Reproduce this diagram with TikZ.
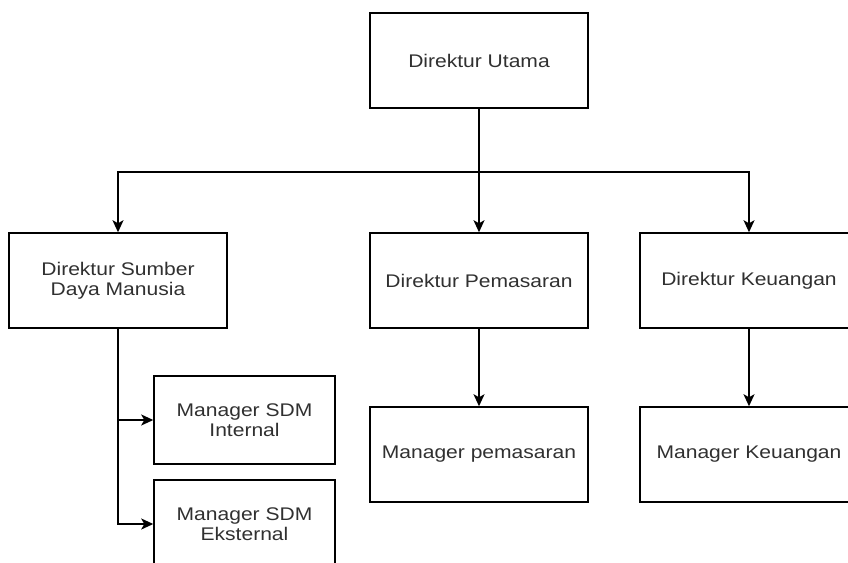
\documentclass[tikz,border=0pt]{standalone}
\usepackage{fontspec}
\setmainfont{Liberation Sans}[FakeStretch=1.15]
\usepackage{tikz}
\usetikzlibrary{arrows.meta}
\definecolor{textgray}{HTML}{303030}

\begin{document}
\begin{tikzpicture}[x=1pt, y=-1pt,
	kotak/.style = {draw, line width=1.5pt, minimum width=218pt, minimum height=95pt, inner sep=0pt, align=center, text=textgray, font=\fontsize{18.3}{20}\selectfont},
	kotakkecil/.style = {kotak, minimum width=181pt, minimum height=88pt},
	panah/.style = {line width=1.5pt, -{Stealth[length=12pt, width=11pt, inset=3pt]}}]
					\useasboundingbox (0,0) rectangle (848,562);
					\clip (0,0) rectangle (848,562);
					\node[kotak] (utama) at (479,60.5) {Direktur Utama};
					\node[kotak] (sdm) at (118,280.5) {Direktur Sumber\\Daya Manusia};
					\node[kotak] (pemasaran) at (479,280.5) {Direktur Pemasaran};
					\node[kotak] (keuangan) at (749,280.5) {Direktur Keuangan};
					\node[kotak] (mpemasaran) at (479,454.5) {Manager pemasaran};
					\node[kotak] (mkeuangan) at (749,454.5) {Manager Keuangan};
					\node[kotakkecil] (internal) at (244.5,420) {Manager SDM\\Internal};
					\node[kotakkecil] (eksternal) at (244.5,524) {Manager SDM\\Eksternal};
					\coordinate (cabang) at (479,172);
					\draw[panah] (utama) -- (pemasaran);
					\draw[panah] (cabang) -| (sdm.north);
					\draw[panah] (cabang) -| (keuangan.north);
					\draw[panah] (sdm.south) |- (internal.west);
					\draw[panah] (sdm.south) |- (eksternal.west);
					\draw[panah] (pemasaran) -- (mpemasaran);
					\draw[panah] (keuangan) -- (mkeuangan);
				\end{tikzpicture}
\end{document}
